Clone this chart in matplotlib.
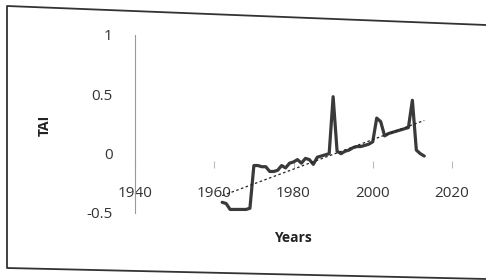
import numpy as np
import matplotlib
matplotlib.use("Agg")
import matplotlib.pyplot as plt
from matplotlib.lines import Line2D

years = list(range(1962, 2014))
tai = [-0.41, -0.42, -0.47, -0.47, -0.47, -0.47, -0.47, -0.46,
       -0.10, -0.10, -0.11, -0.11, -0.15, -0.15, -0.14, -0.10,
       -0.12, -0.08, -0.07, -0.05, -0.08, -0.04, -0.05, -0.09,
       -0.03, -0.02, -0.01, 0.00, 0.48, 0.02, 0.00, 0.02,
       0.03, 0.05, 0.06, 0.06, 0.07, 0.08, 0.10, 0.30,
       0.27, 0.15, 0.17, 0.18, 0.19, 0.20, 0.21, 0.22,
       0.45, 0.03, 0.00, -0.02]
xticks = [1940, 1960, 1980, 2000, 2020]
yticks = [-0.5, 0, 0.5, 1]
ytick_labels = ["-0.5", "0", "0.5", "1"]

plt.rcParams['font.family'] = ['Open Sans', 'DejaVu Sans']

fig = plt.figure(figsize=(4.86, 2.80), dpi=100)
W, H = 486, 280
ax = fig.add_axes([135 / W, (H - 213) / H, (452 - 135) / W, (213 - 35) / H])
ax.set_facecolor('none')

ax.plot(years, tai, color='#3a3a3a', lw=2.3, solid_joinstyle='round',
        solid_capstyle='round', zorder=3)
coef = np.polyfit(years, tai, 1)
tx = np.array([years[0], years[-1]])
ax.plot(tx, np.polyval(coef, tx), color='#222222', lw=0.9, ls=(0, (2, 2)), zorder=4)

ax.set_xlim(1940, 2020)
ax.set_ylim(-0.5, 1)
ax.set_xticks(xticks)
ax.set_xticklabels([str(t) for t in xticks])
ax.set_yticks(yticks)
ax.set_yticklabels(ytick_labels)

for s in ['top', 'right']:
    ax.spines[s].set_visible(False)
ax.spines['left'].set_color('#9a9a9a')
ax.spines['left'].set_linewidth(0.8)
ax.spines['bottom'].set_position(('data', -0.06))
ax.spines['bottom'].set_color('none')
ax.tick_params(axis='y', length=0, pad=16, labelsize=11, labelcolor='#333333')
ax.tick_params(axis='x', direction='out', length=5, color='#bbbbbb', pad=13,
               labelsize=11, labelcolor='#333333')

ax.set_xlabel('Years', fontsize=10, fontweight='bold', color='#222222')
ax.set_ylabel('TAI', fontsize=10, fontweight='bold', color='#222222')
ax.xaxis.set_label_coords((293 - 135) / (452 - 135), -(231 - 213) / (213 - 35))
ax.yaxis.set_label_coords(-(135 - 52) / (452 - 135), (213 - 125) / (213 - 35))

# scanned frame border
fx = lambda px: px / W
fy = lambda py: (H - py) / H
border = Line2D([fx(486), fx(7), fx(7), fx(486)], [fy(25), fy(6), fy(268), fy(279)],
                transform=fig.transFigure, color='#333333', lw=1.3)
fig.add_artist(border)

fig.savefig('out.png', dpi=100)
